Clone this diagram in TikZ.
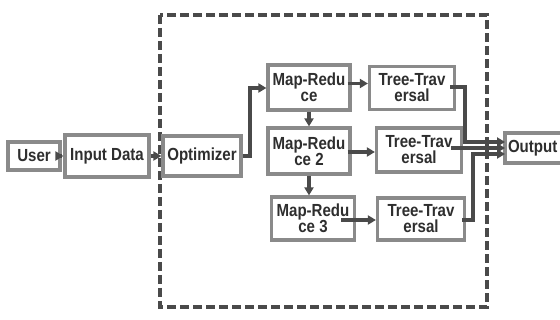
\documentclass[tikz,border=0pt]{standalone}
\usepackage{fontspec}
\setmainfont{Liberation Sans}[FakeStretch=0.86]
\usetikzlibrary{arrows.meta,calc}
\definecolor{boxc}{HTML}{8A8A8A}
\definecolor{arrc}{HTML}{4A4A4A}
\definecolor{txtc}{HTML}{2E2E2E}
\begin{document}
\begin{tikzpicture}[x=1pt,y=-1pt,
  box/.style={draw=boxc,line width=3.2pt,fill=white,inner sep=0pt,align=center,
    font=\fontsize{17.5}{17}\selectfont\bfseries,text=txtc},
  arr/.style={draw=arrc,line width=3.2pt,-{Triangle[length=8pt,width=9pt]}},
  frame/.style={draw=arrc,line width=3.4pt,dash pattern=on 9pt off 4pt}]
\useasboundingbox (0,0) rectangle (560,320);
\fill[white] (0,0) rectangle (560,320);
% frame
\draw[frame] (160,15) rectangle (487,307);
% nodes
\node[box,minimum width=52pt,minimum height=28pt] (user) at (34,156) {User};
\node[box,minimum width=84pt,minimum height=42pt] (inp) at (107,156) {Input Data};
\node[box,minimum width=78pt,minimum height=40pt] (opt) at (202,156) {Optimizer};
\node[box,minimum width=82pt,minimum height=45pt] (mr1) at (309,87.5) {Map-Redu\\[-1pt]ce};
\node[box,minimum width=85pt,minimum height=43pt] (tt1) at (412,88) {Tree-Trav\\[-1pt]ersal};
\node[box,minimum width=82pt,minimum height=46pt] (mr2) at (309,151) {Map-Redu\\[-1pt]ce 2};
\node[box,minimum width=85pt,minimum height=44pt] (tt2) at (419,150) {Tree-Trav\\[-1pt]ersal};
\node[box,minimum width=83pt,minimum height=43pt] (mr3) at (313,218.5) {Map-Redu\\[-1pt]ce 3};
\node[box,minimum width=87pt,minimum height=42pt] (tt3) at (421,219) {Tree-Trav\\[-1pt]ersal};
\node[box,minimum width=66pt,minimum height=30pt,text width=60pt,align=left] (out) at (538,148) {Output};
% helper coordinates
\coordinate (j1) at (250,156);
\coordinate (j2) at (250,88);
\coordinate (k1) at (465,87);
\coordinate (k2) at (465,142);
\coordinate (o1) at (505,142);
\coordinate (o2) at (505,148);
\coordinate (o3) at (505,154);
\coordinate (m1) at (473,220);
\coordinate (m2) at (473,154);
% connectors
\draw[arr] (user.east) -- (inp.west);
\draw[arr] (inp.east) -- (opt.west);
\draw[arr] (opt.east) -- (j1) -- (j2) -- (j2 -| mr1.west);
\draw[arr] ([xshift=-4pt,yshift=4pt]mr1.east) -- ([yshift=4pt]mr1.east -| tt1.west);
\draw[arr] (mr1.south) -- (mr2.north);
\draw[arr] ([xshift=-4pt,yshift=-1pt]mr2.east) -- ([yshift=-1pt]mr2.east -| tt2.west);
\draw[arr] (mr2.south) -- (mr2.south |- mr3.north);
\draw[arr] ([xshift=-15pt,yshift=-1.5pt]mr3.east) -- ([yshift=-1.5pt]mr3.east -| tt3.west);
\draw[arr] ([xshift=-6pt,yshift=1pt]tt1.east) -- (k1) -- (k2) -- (o1);
\draw[arr] ([xshift=-12pt,yshift=2pt]tt2.east) -- (o2);
\draw[arr] ([xshift=-4pt,yshift=-1pt]tt3.east) -- (m1) -- (m2) -- (o3);
\end{tikzpicture}
\end{document}
